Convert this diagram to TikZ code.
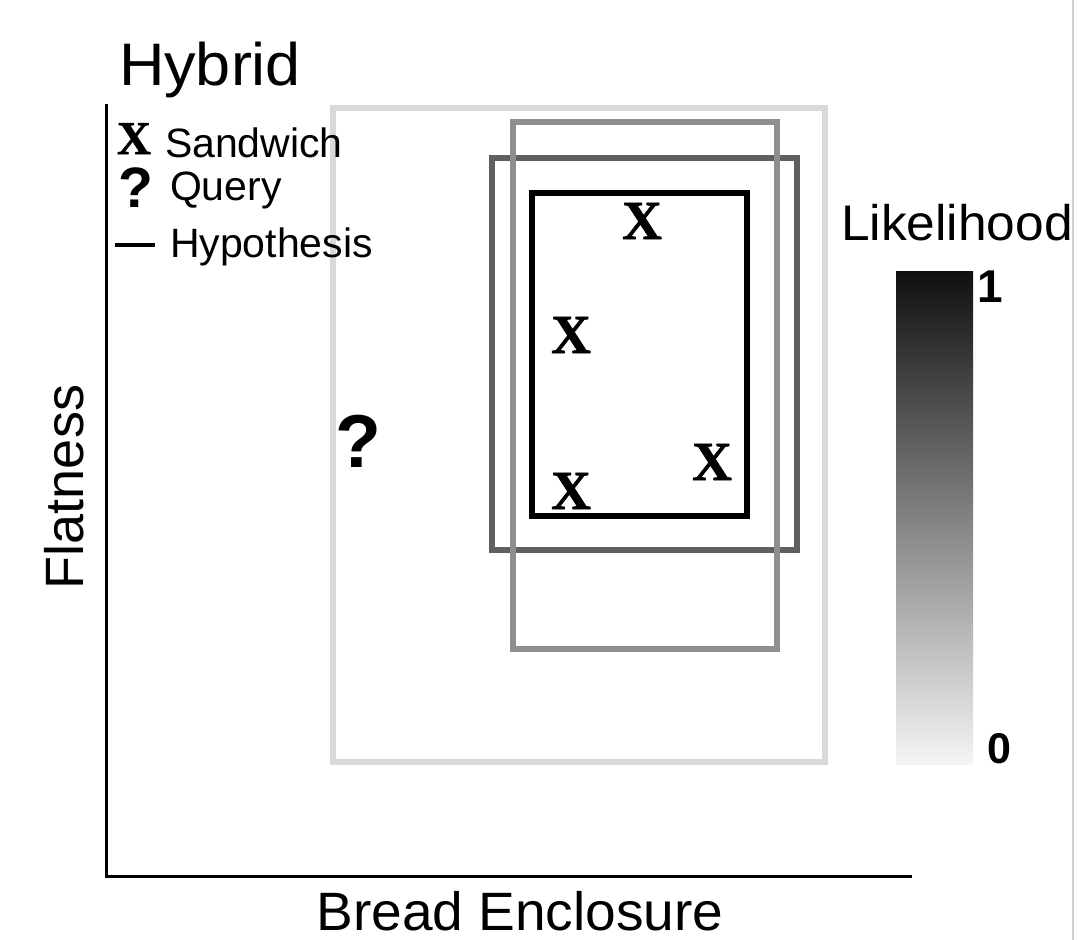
\documentclass[tikz,border=0pt]{standalone}
\usepackage{fontspec}
\setmainfont{Liberation Sans}
\newfontfamily\timesfont{Liberation Serif}[FakeBold=1.2]
\newfontfamily\heavysans{Liberation Sans Bold}
\begin{document}
\begin{tikzpicture}[x=1pt,y=-1pt,
  txt/.style={inner sep=0pt, outer sep=0pt},
  fs/.style={font=\fontsize{#1}{#1}\selectfont},
  sandwich/.style={txt, anchor=base, font=\fontsize{55}{55}\selectfont\timesfont\bfseries},
  hypbox/.style={line width=6pt},
  axisline/.style={line width=3pt, line cap=rect}]
\useasboundingbox (0,0) rectangle (1077,940);

% thin frame line on the right
\coordinate (edgetop) at (1073,0);
\coordinate (edgebot) at (1073,940);
\draw[line width=1.5pt, black!18] (edgetop) -- (edgebot);

% axes
\coordinate (origin) at (106,876);
\coordinate (ytop) at (106,105);
\coordinate (xend) at (910,876);
\draw[axisline] (ytop) -- (origin) -- (xend);

% hypotheses, faint to strong
\coordinate (h1a) at (333,108); \coordinate (h1b) at (825,762);
\coordinate (h2a) at (492,158); \coordinate (h2b) at (797,550);
\coordinate (h3a) at (513,122); \coordinate (h3b) at (777,649);
\coordinate (h4a) at (532,193); \coordinate (h4b) at (747,516);
\draw[hypbox, color={rgb,255:red,217;green,217;blue,217}] (h1a) rectangle (h1b);
\draw[hypbox, color={rgb,255:red,96;green,96;blue,96}] (h2a) rectangle (h2b);
\draw[hypbox, color={rgb,255:red,143;green,143;blue,143}] (h3a) rectangle (h3b);
\draw[hypbox, black] (h4a) rectangle (h4b);

% title and axis labels
\node[txt, fs=60, anchor=base west, xscale=1.05, transform shape] (title) at (119,85) {Hybrid};
\node[txt, fs=54, anchor=base, rotate=90] (ylab) at (83,487) {Flatness};
\node[txt, fs=54, anchor=base, xscale=1.02, transform shape] (xlab) at (520,930) {Bread Enclosure};

% legend
\node[txt, anchor=base, font=\fontsize{47}{47}\selectfont\timesfont\bfseries] (legx) at (134,154) {X};
\node[txt, fs=41, anchor=base west] (legxt) at (165,157) {Sandwich};
\node[txt, anchor=base, font=\fontsize{57}{57}\selectfont\heavysans] (legq) at (136,207) {?};
\node[txt, fs=41, anchor=base west] (legqt) at (170,200) {Query};
\coordinate (dasha) at (115,245);
\coordinate (dashb) at (155,245);
\draw[line width=4.5pt] (dasha) -- (dashb);
\node[txt, fs=41, anchor=base west] (leght) at (170,257) {Hypothesis};

% observed sandwiches and the query
\node[sandwich] (s1) at (642,239) {X};
\node[sandwich] (s2) at (571,353) {X};
\node[sandwich] (s3) at (571,509) {X};
\node[sandwich] (s4) at (712,480) {X};
\node[txt, anchor=base, font=\fontsize{75}{75}\selectfont\heavysans] (query) at (358,467) {?};

% likelihood scale
\node[txt, fs=50, anchor=base west, xscale=1.03, transform shape] (liklab) at (841,240) {Likelihood};
\coordinate (bara) at (896,271);
\coordinate (barb) at (973,764);
\shade[top color=black!94, bottom color=black!4] (bara) rectangle (barb);
\node[txt, anchor=base west, font=\fontsize{46}{46}\selectfont\heavysans] (one) at (977,302) {1};
\node[txt, anchor=base west, font=\fontsize{43}{43}\selectfont\heavysans] (zero) at (987,763) {0};
\end{tikzpicture}
\end{document}
